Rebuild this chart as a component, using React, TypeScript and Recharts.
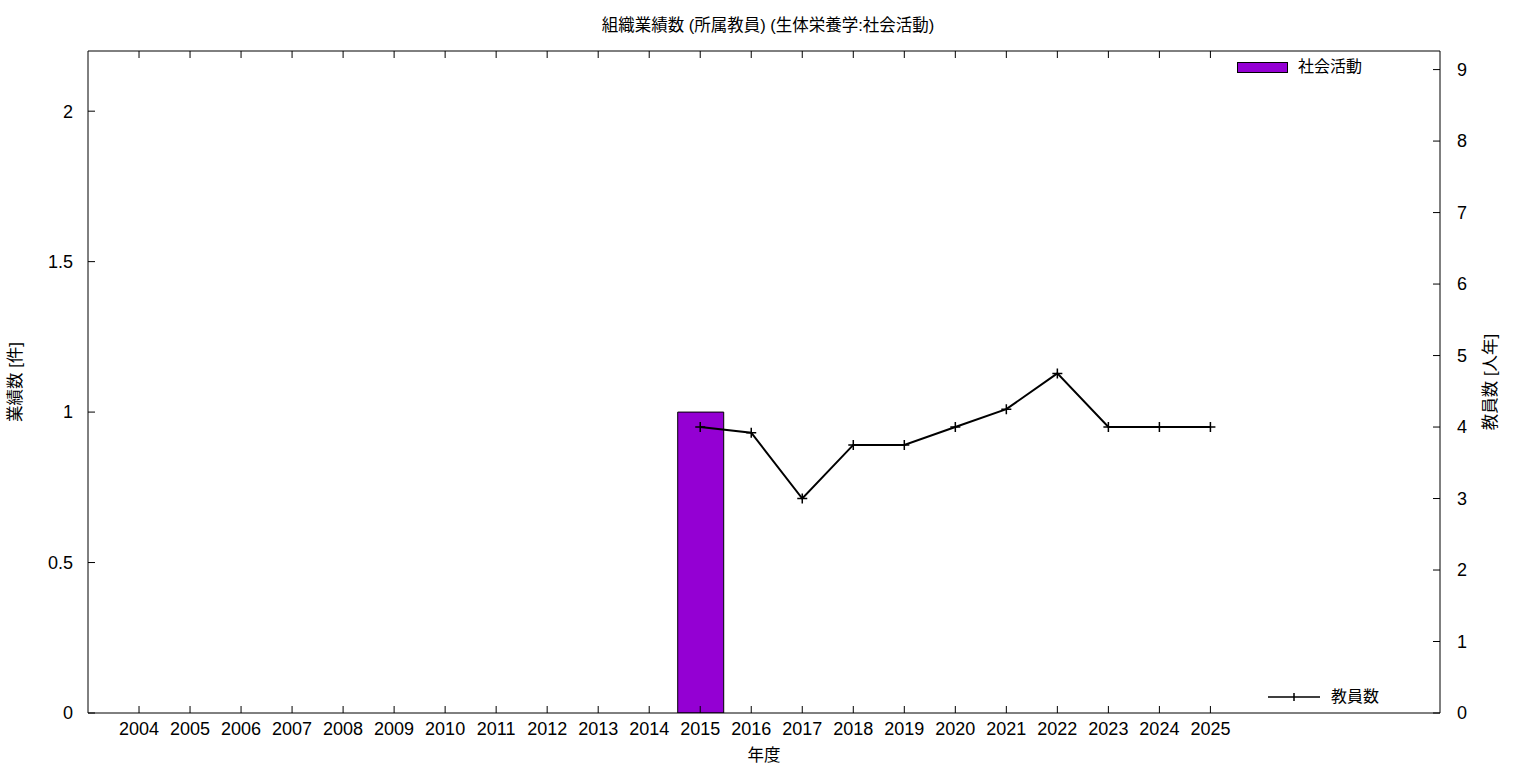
import {
  ComposedChart, Bar, Line, XAxis, YAxis, Legend,
} from 'recharts';

const years = [
  2004, 2005, 2006, 2007, 2008, 2009, 2010, 2011, 2012, 2013, 2014,
  2015, 2016, 2017, 2018, 2019, 2020, 2021, 2022, 2023, 2024, 2025,
];
const activityCounts = [0, 0, 0, 0, 0, 0, 0, 0, 0, 0, 0, 1, 0, 0, 0, 0, 0, 0, 0, 0, 0, 0];
const facultyCounts: (number | null)[] = [
  null, null, null, null, null, null, null, null, null, null, null,
  4, 3.92, 3, 3.75, 3.75, 4, 4.25, 4.75, 4, 4, 4,
];
const leftTicks = [0, 0.5, 1, 1.5, 2];
const rightTicks = [0, 1, 2, 3, 4, 5, 6, 7, 8, 9];

const title = '組織業績数 (所属教員) (生体栄養学:社会活動)';
const barName = '社会活動';
const lineName = '教員数';

const FONT = "'Liberation Sans', 'Noto Sans CJK JP', sans-serif";
const PURPLE = '#9400d3';

const data = years.map((year, i) => ({
  year,
  activity: activityCounts[i],
  faculty: facultyCounts[i],
}));

const PlusDot = (props: any) => {
  const { cx, cy, index } = props;
  if (cx == null || cy == null) return <g key={`d${index}`} />;
  return (
    <path
      key={`d${index}`}
      d={`M${cx - 5},${cy}h10M${cx},${cy - 5}v10`}
      stroke="#000"
      strokeWidth={1.5}
      fill="none"
    />
  );
};

const LegendBox = (props: any) => {
  const payload = props.payload || [];
  const bar = payload.find((p: any) => p.dataKey === 'activity');
  const line = payload.find((p: any) => p.dataKey === 'faculty');
  const text = { position: 'absolute' as const, fontSize: 16, lineHeight: '20px', color: '#000' };
  return (
    <div style={{ position: 'relative', width: 1536, height: 768, fontFamily: FONT, pointerEvents: 'none' }}>
      {bar && (
        <>
          <div style={{ position: 'absolute', left: 1237, top: 62, width: 49, height: 9, background: PURPLE, border: '1px solid #000' }} />
          <div style={{ ...text, left: 1298, top: 57 }}>{bar.value}</div>
        </>
      )}
      {line && (
        <>
          <svg style={{ position: 'absolute', left: 1266, top: 690 }} width={56} height={14}>
            <path d="M2,7h52M28,3v8" stroke="#000" strokeWidth={1.5} />
          </svg>
          <div style={{ ...text, left: 1331, top: 687 }}>{line.value}</div>
        </>
      )}
    </div>
  );
};

export default function App() {
  return (
    <div style={{ position: 'absolute', left: 0, top: 0, width: 1536, height: 768, background: '#fff', fontFamily: FONT }}>
      <div style={{ position: 'absolute', left: 0, top: 15, width: 1536, textAlign: 'center', fontSize: 16.5, lineHeight: '20px', color: '#000' }}>
        {title}
      </div>
      <ComposedChart
        width={1536}
        height={768}
        data={data}
        margin={{ top: 50, right: 56, left: 28, bottom: 5 }}
        style={{ fontFamily: FONT }}
      >
        <XAxis
          xAxisId="top"
          orientation="top"
          dataKey="year"
          type="number"
          domain={[2003, 2029.5]}
          ticks={years}
          height={1}
          stroke="#000"
          axisLine={{ stroke: '#000' }}
          tickLine={{ stroke: '#000' }}
          tickSize={-7}
          tickFormatter={() => ''}
          allowDataOverflow
        />
        <XAxis
          dataKey="year"
          type="number"
          domain={[2003, 2029.5]}
          ticks={years}
          interval={0}
          height={50}
          axisLine={{ stroke: '#000' }}
          tickLine={{ stroke: '#000' }}
          tickSize={-7}
          tickMargin={16}
          tick={{ fill: '#000', fontSize: 18 }}
          allowDataOverflow
          label={(p: any) => {
            const vb = p.viewBox;
            return (
              <text x={vb.x + vb.width / 2} y={vb.y + 48} textAnchor="middle" fontSize={16.5} fill="#000">
                年度
              </text>
            );
          }}
        />
        <YAxis
          yAxisId="left"
          orientation="left"
          domain={[0, 2.2]}
          ticks={leftTicks}
          width={60}
          axisLine={{ stroke: '#000' }}
          tickLine={{ stroke: '#000' }}
          tickSize={-7}
          tickMargin={22}
          tick={{ fill: '#000', fontSize: 18 }}
          allowDataOverflow
          label={(p: any) => {
            const vb = p.viewBox;
            const x = vb.x - 13;
            const y = vb.y + vb.height / 2;
            return (
              <text x={x} y={y} transform={`rotate(-90 ${x} ${y})`} textAnchor="middle" dominantBaseline="central" fontSize={16.5} fill="#000">
                業績数 [件]
              </text>
            );
          }}
        />
        <YAxis
          yAxisId="right"
          orientation="right"
          domain={[0, 9.26]}
          ticks={rightTicks}
          width={40}
          axisLine={{ stroke: '#000' }}
          tickLine={{ stroke: '#000' }}
          tickSize={-7}
          tickMargin={24}
          tick={{ fill: '#000', fontSize: 18 }}
          allowDataOverflow
          label={(p: any) => {
            const vb = p.viewBox;
            const x = vb.x + vb.width + 10;
            const y = vb.y + vb.height / 2;
            return (
              <text x={x} y={y} transform={`rotate(-90 ${x} ${y})`} textAnchor="middle" dominantBaseline="central" fontSize={16.5} fill="#000">
                教員数 [人年]
              </text>
            );
          }}
        />
        <Legend
          layout="vertical"
          align="center"
          verticalAlign="middle"
          wrapperStyle={{ left: 0, top: 0, width: 1536, height: 768, margin: 0 }}
          content={<LegendBox />}
        />
        <Bar
          yAxisId="left"
          dataKey="activity"
          name={barName}
          fill={PURPLE}
          stroke="#000"
          strokeWidth={1}
          barSize={46}
          isAnimationActive={false}
        />
        <Line
          yAxisId="right"
          dataKey="faculty"
          name={lineName}
          stroke="#000"
          strokeWidth={2}
          dot={PlusDot}
          activeDot={false}
          isAnimationActive={false}
        />
      </ComposedChart>
    </div>
  );
}
